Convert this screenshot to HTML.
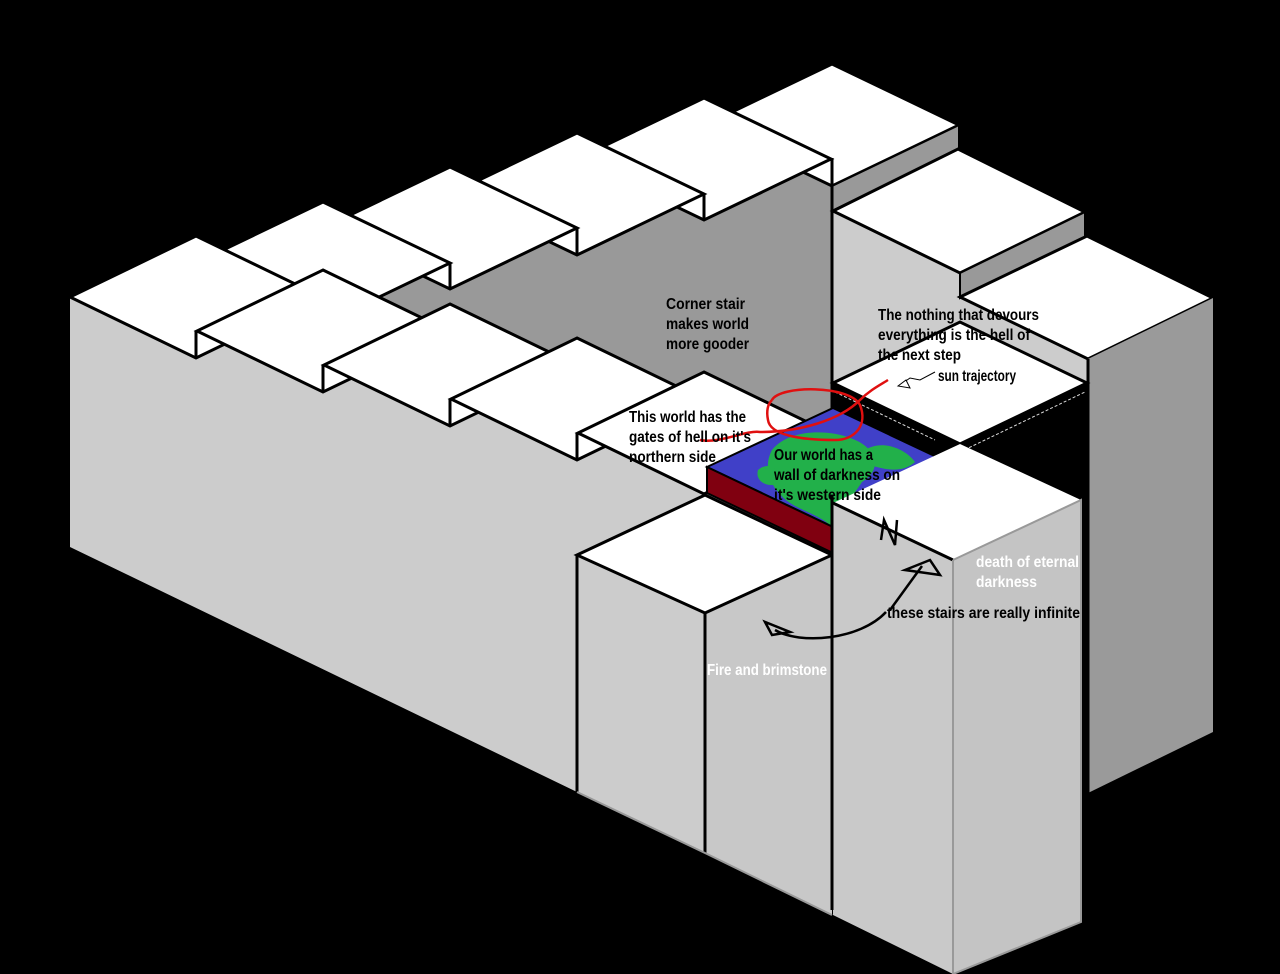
<!DOCTYPE html>
<html><head><meta charset="utf-8"><style>
html,body{margin:0;padding:0;background:#000;}
svg{display:block}
text{font-family:"Liberation Sans Narrow","Liberation Sans",sans-serif;font-weight:bold;font-size:16px;}
</style></head><body>
<svg width="1280" height="974" viewBox="0 0 1280 974" xmlns="http://www.w3.org/2000/svg">
<rect width="1280" height="974" fill="#000"/>
<polygon points="323,323 450,263 450,289 577,228 577,255 704,194 704,220 832,160 832,600 323,600" fill="#999"/>
<g stroke="#000" stroke-width="3" stroke-linejoin="miter" fill="#fff">
<polygon points="832,64 959,125 832,186 705,125"/>
<polygon points="704,98 831,159 704,220 577,159"/>
<polygon points="577,133 704,194 577,255 450,194"/>
<polygon points="450,167 577,228 450,289 323,228"/>
<polygon points="323,202 450,263 323,324 196,263"/>
</g>
<g stroke="#000" stroke-width="3">
<line x1="450" y1="263" x2="450" y2="289"/>
<line x1="577" y1="228" x2="577" y2="255"/>
<line x1="704" y1="194" x2="704" y2="220"/>
<line x1="832" y1="158" x2="832" y2="186"/>
</g>
<polygon points="959,125 959,149 832,211 832,186" fill="#999" stroke="#000" stroke-width="2"/>
<polygon points="833,211 960,272 960,297 1088,358 1088,384 833,384" fill="#ccc"/>
<polygon points="833,211 958,149 1085,212 960,273" fill="#fff" stroke="#000" stroke-width="3"/>
<polygon points="1085,212 1085,237 960,298 960,273" fill="#999" stroke="#000" stroke-width="2"/>
<polygon points="960,297 1087,236 1213,298 1088,359" fill="#fff" stroke="#000" stroke-width="3"/>
<polygon points="1088,359 1213,298 1213,732 1088,793" fill="#9a9a9a"/>
<line x1="1088" y1="359" x2="1088" y2="793" stroke="#000" stroke-width="3"/>
<polygon points="833,384 960,444 1087,384 1087,560 833,560" fill="#000"/>
<polygon points="833,383 960,322 1087,383 960,444" fill="#fff" stroke="#000" stroke-width="3"/>
<line x1="835" y1="392" x2="935" y2="440" stroke="#ddd" stroke-width="1" stroke-dasharray="3,2"/>
<line x1="960" y1="452" x2="1085" y2="392" stroke="#ddd" stroke-width="1" stroke-dasharray="3,2"/>
<line x1="832" y1="158" x2="832" y2="910" stroke="#000" stroke-width="3"/>
<polygon points="70,297 196,358 196,331 323,392 323,365 450,426 450,399 577,460 577,433 704,494 705,495 577,555 577,792 70,547" fill="#ccc"/>
<g stroke="#000" stroke-width="3" fill="#fff">
<polygon points="196,236 322,297 196,358 70,297"/>
<polygon points="323,270 449,331 323,392 197,331"/>
<polygon points="450,304 576,365 450,426 324,365"/>
<polygon points="577,338 703,399 577,460 451,399"/>
<polygon points="704,372 830,433 704,494 578,433"/>
</g>
<g stroke="#000" stroke-width="3">
<line x1="196" y1="331" x2="196" y2="358"/>
<line x1="323" y1="365" x2="323" y2="392"/>
<line x1="450" y1="399" x2="450" y2="426"/>
<line x1="577" y1="433" x2="577" y2="460"/>
</g>
<polygon points="707,467 833,408 960,468 833,527" fill="#4040c8" stroke="#000" stroke-width="2"/>
<path d="M772,450 C790,428 830,430 850,438 C875,446 885,468 862,482 C850,500 838,515 830,525 C815,512 790,508 780,494 C768,482 764,465 772,450Z" fill="#22b04a"/>
<path d="M862,452 C880,438 905,448 915,462 C902,474 882,470 862,462Z" fill="#22b04a"/>
<path d="M758,470 C770,460 782,470 778,484 C765,488 755,480 758,470Z" fill="#22b04a"/>
<polygon points="707,467 833,527 833,553 707,493" fill="#800010" stroke="#000" stroke-width="2"/>
<polygon points="577,555 705,613 705,853 577,792" fill="#ccc"/>
<polygon points="705,613 832,555 832,915 705,853" fill="#c8c8c8"/>
<polygon points="577,555 705,495 832,555 705,613" fill="#fff" stroke="#000" stroke-width="3"/>
<g stroke="#000" stroke-width="3">
<line x1="577" y1="555" x2="577" y2="792"/>
<line x1="705" y1="613" x2="705" y2="853"/>
</g>
<polyline points="577,792 705,853 832,915" fill="none" stroke="#999" stroke-width="2"/>
<polygon points="833,503 953,560 953,974 833,915" fill="#c9c9c9"/>
<polygon points="953,560 1081,500 1081,922 953,974" fill="#c4c4c4"/>
<polygon points="833,503 960,444 1081,500 953,560" fill="#fff"/>
<polyline points="833,503 953,560" fill="none" stroke="#000" stroke-width="3"/>
<polyline points="953,560 1081,500 1081,922 953,974" fill="none" stroke="#999" stroke-width="2"/>
<line x1="953" y1="560" x2="953" y2="974" stroke="#999" stroke-width="2"/>
<line x1="832" y1="495" x2="832" y2="910" stroke="#000" stroke-width="3"/>
<g fill="none" stroke="#e01010" stroke-width="2.5">
<path d="M772,400 C780,385 850,385 860,405 C868,425 855,440 835,440 C800,440 770,435 768,420 C766,410 768,404 772,400"/>
<path d="M700,440 C720,444 745,430 760,432 C800,432 840,420 860,400 C870,390 880,385 888,380"/>
</g>
<g fill="none" stroke="#000" stroke-width="2.5">
<path d="M775,630 C800,645 860,640 886,612"/>
<polygon points="765,622 772,635 790,632"/>
<path d="M890,610 L922,566"/>
<polygon points="905,570 930,560 940,575"/>
<path d="M881,540 L884,520 L895,545 L897,520"/>
</g>
<path d="M900,385 L910,378 L920,380 L935,372" fill="none" stroke="#000" stroke-width="1"/>
<polygon points="898,386 906,380 910,388" fill="#fff" stroke="#000" stroke-width="1"/>
<g fill="#000">
<text x="666" y="309" textLength="79" lengthAdjust="spacingAndGlyphs">Corner stair</text>
<text x="666" y="329" textLength="83" lengthAdjust="spacingAndGlyphs">makes world</text>
<text x="666" y="349" textLength="83" lengthAdjust="spacingAndGlyphs">more gooder</text>
<text x="878" y="320" textLength="161" lengthAdjust="spacingAndGlyphs">The nothing that devours</text>
<text x="878" y="340" textLength="152" lengthAdjust="spacingAndGlyphs">everything is the hell of</text>
<text x="878" y="360" textLength="83" lengthAdjust="spacingAndGlyphs">the next step</text>
<text x="938" y="381" textLength="78" lengthAdjust="spacingAndGlyphs">sun trajectory</text>
<text x="629" y="422" textLength="117" lengthAdjust="spacingAndGlyphs">This world has the</text>
<text x="629" y="442" textLength="122" lengthAdjust="spacingAndGlyphs">gates of hell on it's</text>
<text x="629" y="462" textLength="87" lengthAdjust="spacingAndGlyphs">northern side</text>
<text x="774" y="460" textLength="99" lengthAdjust="spacingAndGlyphs">Our world has a</text>
<text x="774" y="480" textLength="126" lengthAdjust="spacingAndGlyphs">wall of darkness on</text>
<text x="774" y="500" textLength="107" lengthAdjust="spacingAndGlyphs">it's western side</text>
<text x="887" y="618" textLength="193" lengthAdjust="spacingAndGlyphs">these stairs are really infinite</text>
</g>
<g fill="#fff">
<text x="976" y="567" textLength="103" lengthAdjust="spacingAndGlyphs">death of eternal</text>
<text x="976" y="587" textLength="61" lengthAdjust="spacingAndGlyphs">darkness</text>
<text x="707" y="675" textLength="120" lengthAdjust="spacingAndGlyphs">Fire and brimstone</text>
</g>
</svg>
</body></html>
